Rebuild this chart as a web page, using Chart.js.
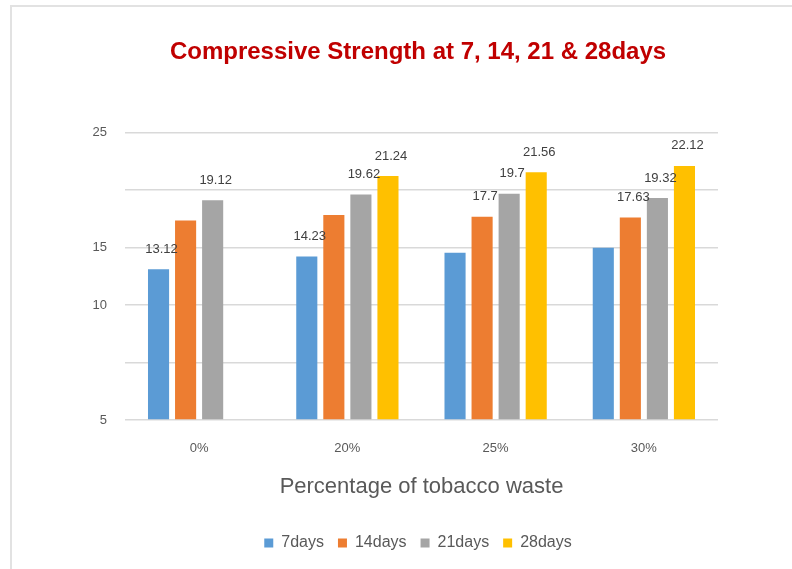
<!DOCTYPE html>
<html>
<head>
<meta charset="utf-8">
<script src="https://cdn.jsdelivr.net/npm/chart.js@4/dist/chart.umd.min.js"></script>
<style>
  html, body { margin: 0; padding: 0; background: #fff; }
  #wrap { position: relative; width: 792px; height: 569px; overflow: hidden; }
  #frame { position: absolute; left: 10px; top: 5px; width: 900px; height: 700px;
           border-left: 2px solid #e2e2e2; border-top: 2px solid #e2e2e2; }
  canvas { position: absolute; left: 0; top: 0; }
</style>
</head>
<body>
<div id="wrap">
  <div id="frame"></div>
  <canvas id="chart" width="792" height="569"></canvas>
</div>
<script>
// Compressive strength (MPa) by tobacco-waste replacement and curing age
const categories = ['0%', '20%', '25%', '30%'];
const seriesNames = ['7days', '14days', '21days', '28days'];
const days7  = [13.12, 14.23, 14.55, 15.0];
const days14 = [17.37, 17.85, 17.7, 17.63];
const days21 = [19.12, 19.62, 19.7, 19.32];
const days28 = [null, 21.24, 21.56, 22.12];
// value labels printed above bars ('' = no label shown)
const labels7  = ['13.12', '14.23', '', ''];
const labels14 = ['', '', '17.7', '17.63'];
const labels21 = ['19.12', '19.62', '19.7', '19.32'];
const labels28 = ['', '21.24', '21.56', '22.12'];
// y-axis tick captions at 0, 5, 10, 15, 20, 25
const yTickLabels = ['5', '', '10', '15', '', '25'];

const colors = ['#5B9BD5', '#ED7D31', '#A5A5A5', '#FFC000'];
const seriesValues = [days7, days14, days21, days28];
const seriesLabels = [labels7, labels14, labels21, labels28];

const FONT = "'Liberation Sans', Arial, sans-serif";
const TEXT = '#595959';

const valueLabels = {
  id: 'valueLabels',
  afterDatasetsDraw(chart) {
    const ctx = chart.ctx;
    ctx.save();
    ctx.font = '13px ' + FONT;
    ctx.fillStyle = '#404040';
    ctx.textAlign = 'center';
    ctx.textBaseline = 'middle';
    chart.data.datasets.forEach((ds, di) => {
      const meta = chart.getDatasetMeta(di);
      meta.data.forEach((bar, i) => {
        const txt = seriesLabels[di][i];
        if (!txt || ds.data[i] == null) return;
        ctx.fillText(txt, bar.x + 3, bar.y - 20);
      });
    });
    ctx.restore();
  }
};

new Chart(document.getElementById('chart'), {
  type: 'bar',
  data: {
    labels: categories,
    datasets: seriesNames.map((name, k) => ({
      label: name,
      data: seriesValues[k],
      backgroundColor: colors[k],
      borderWidth: 0,
      barPercentage: 0.78,
      categoryPercentage: 0.73
    }))
  },
  options: {
    responsive: false,
    animation: false,
    layout: { padding: { left: 44, right: 0, top: 0, bottom: 8 } },
    plugins: {
      title: {
        display: true,
        text: 'Compressive Strength at 7, 14, 21 & 28days',
        color: '#C00000',
        font: { family: FONT, size: 24, weight: 'bold' },
        padding: { top: 38, bottom: 66 }
      },
      legend: {
        position: 'bottom',
        labels: {
          color: TEXT,
          font: { family: FONT, size: 16 },
          boxWidth: 9, boxHeight: 9,
          padding: 14
        }
      },
      tooltip: { enabled: false }
    },
    scales: {
      x: {
        grid: { display: false, drawTicks: false },
        border: { display: false },
        ticks: { color: TEXT, font: { family: FONT, size: 13 }, padding: 21 },
        title: {
          display: true,
          text: 'Percentage of tobacco waste',
          color: TEXT,
          font: { family: FONT, size: 22 },
          padding: { top: -4, bottom: 21 }
        }
      },
      y: {
        min: 0, max: 25,
        afterFit(scale) { scale.width = 81; },
        grid: { color: '#d9d9d9', lineWidth: 1.5, drawTicks: false },
        border: { display: false },
        ticks: {
          stepSize: 5,
          color: TEXT,
          font: { family: FONT, size: 13 },
          padding: 18,
          callback: (v, i) => yTickLabels[i]
        }
      },
      // empty right-hand margin axis
      yRight: {
        position: 'right',
        afterFit(scale) { scale.width = 74; },
        grid: { display: false, drawTicks: false },
        border: { display: false },
        ticks: { display: false }
      }
    }
  },
  plugins: [valueLabels]
});
</script>
</body>
</html>
